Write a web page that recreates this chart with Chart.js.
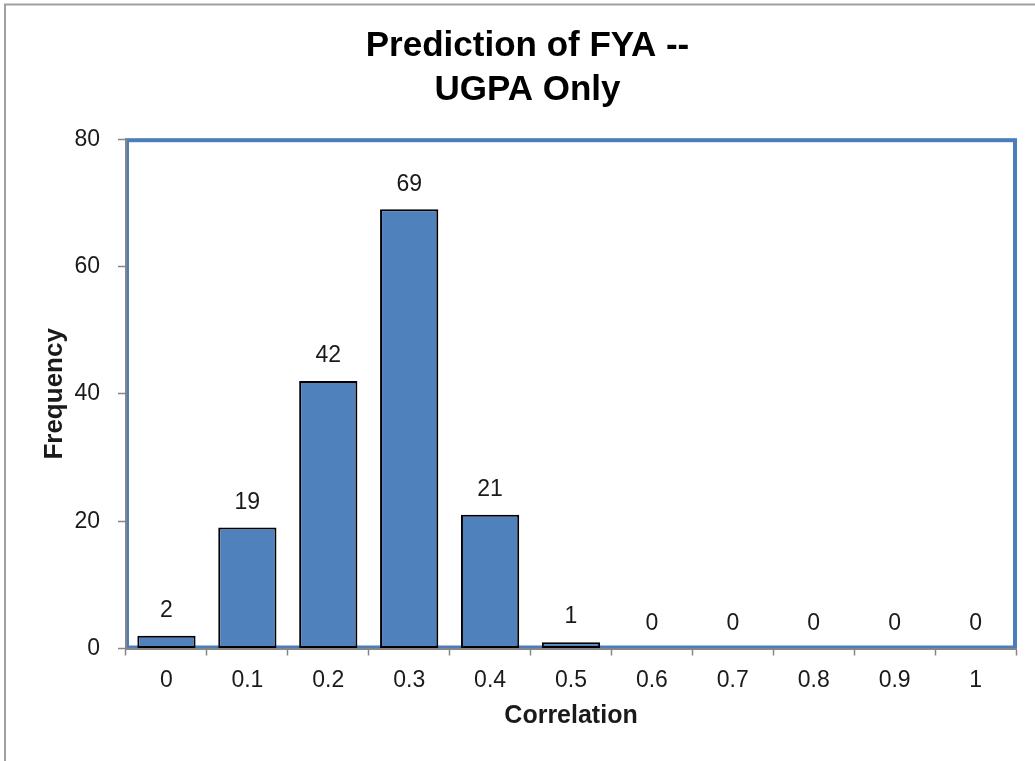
<!DOCTYPE html>
<html lang="en">
<head>
    <meta charset="UTF-8">
    <title>Prediction of FYA -- UGPA Only</title>
    <script src="https://cdn.jsdelivr.net/npm/chart.js"></script>
    <style>
        html, body { margin: 0; padding: 0; background: #ffffff; }
        #frame {
            position: relative;
            width: 1035px;
            height: 761px;
        }
    </style>
</head>
<body>
    <div id="frame">
        <canvas id="histChart"></canvas>
    </div>

    <script>
        // chart data
        var correlationBins = ['0', '0.1', '0.2', '0.3', '0.4', '0.5', '0.6', '0.7', '0.8', '0.9', '1'];
        var frequencies = [2, 19, 42, 69, 21, 1, 0, 0, 0, 0, 0];
        var yTicks = [0, 20, 40, 60, 80];
        var titleLines = ['Prediction of FYA --', 'UGPA Only'];

        var barBlue = '#4f81bd';
        var axisGrey = '#868686';

        // grey frame round the whole picture + blue box round the plot area
        var framePlugin = {
            id: 'framePlugin',
            beforeDraw: function(chart) {
                var ctx = chart.ctx;
                var a = chart.chartArea;
                ctx.save();
                ctx.strokeStyle = '#a0a0a0';
                ctx.lineWidth = 2;
                ctx.beginPath();
                ctx.moveTo(5, 761);
                ctx.lineTo(5, 4.5);
                ctx.lineTo(1035, 4.5);
                ctx.stroke();

                ctx.strokeStyle = '#4a7ebb';
                ctx.lineWidth = 4;
                ctx.strokeRect(a.left + 1, a.top + 1, a.right - a.left - 2, a.bottom - a.top - 2);
                ctx.restore();
            }
        };

        // value labels above each bar
        var valueLabels = {
            id: 'valueLabels',
            afterDatasetsDraw: function(chart) {
                var ctx = chart.ctx;
                var meta = chart.getDatasetMeta(0);
                ctx.save();
                ctx.fillStyle = '#1a1a1a';
                ctx.font = '23px "Liberation Sans", Arial, sans-serif';
                ctx.textAlign = 'center';
                ctx.textBaseline = 'middle';
                meta.data.forEach(function(bar, i) {
                    ctx.fillText(String(frequencies[i]), bar.x, bar.y - 25);
                });
                ctx.restore();
            }
        };

        var ctx = document.getElementById('histChart').getContext('2d');
        var histChart = new Chart(ctx, {
            type: 'bar',
            data: {
                labels: correlationBins,
                datasets: [{
                    label: 'Frequency',
                    data: frequencies,
                    backgroundColor: barBlue,
                    borderColor: '#000000',
                    borderWidth: function(c) { return c.raw === 0 ? 0 : 2; },
                    borderSkipped: false,
                    categoryPercentage: 1.0,
                    barPercentage: 0.72
                }]
            },
            options: {
                responsive: true,
                maintainAspectRatio: false,
                animation: false,
                layout: {
                    padding: { left: 39, right: 19, top: 0, bottom: 30 }
                },
                plugins: {
                    legend: { display: false },
                    tooltip: { enabled: false },
                    title: {
                        display: true,
                        text: titleLines,
                        color: '#000000',
                        font: { family: '"Liberation Sans", Arial, sans-serif', size: 35, weight: 'bold', lineHeight: 1.26 },
                        padding: { top: 24, bottom: 27 }
                    }
                },
                scales: {
                    x: {
                        grid: {
                            display: true,
                            offset: true,
                            drawOnChartArea: false,
                            drawTicks: true,
                            tickLength: 7,
                            tickWidth: 1.5,
                            tickColor: axisGrey
                        },
                        border: { display: true, color: axisGrey, width: 2 },
                        ticks: {
                            color: '#1a1a1a',
                            padding: 11,
                            maxRotation: 0,
                            autoSkip: false,
                            font: { family: '"Liberation Sans", Arial, sans-serif', size: 23 }
                        },
                        title: {
                            display: true,
                            text: 'Correlation',
                            color: '#1a1a1a',
                            padding: 0,
                            font: { family: '"Liberation Sans", Arial, sans-serif', size: 25, weight: 'bold', lineHeight: 1.2 }
                        },
                        afterFit: function(scale) { scale.height = 82.5; }
                    },
                    y: {
                        min: 0,
                        max: 80,
                        afterBuildTicks: function(scale) {
                            scale.ticks = yTicks.map(function(v) { return { value: v }; });
                        },
                        grid: {
                            display: true,
                            drawOnChartArea: false,
                            drawTicks: true,
                            tickLength: 8,
                            tickWidth: 1.5,
                            tickColor: axisGrey
                        },
                        border: { display: true, color: axisGrey, width: 2 },
                        ticks: {
                            color: '#1a1a1a',
                            padding: 18,
                            font: { family: '"Liberation Sans", Arial, sans-serif', size: 23 }
                        },
                        title: {
                            display: true,
                            text: 'Frequency',
                            color: '#1a1a1a',
                            padding: 0,
                            font: { family: '"Liberation Sans", Arial, sans-serif', size: 26, weight: 'bold', lineHeight: 1.2 }
                        },
                        afterFit: function(scale) { scale.width = 87; }
                    }
                }
            },
            plugins: [framePlugin, valueLabels]
        });
    </script>
</body>
</html>
